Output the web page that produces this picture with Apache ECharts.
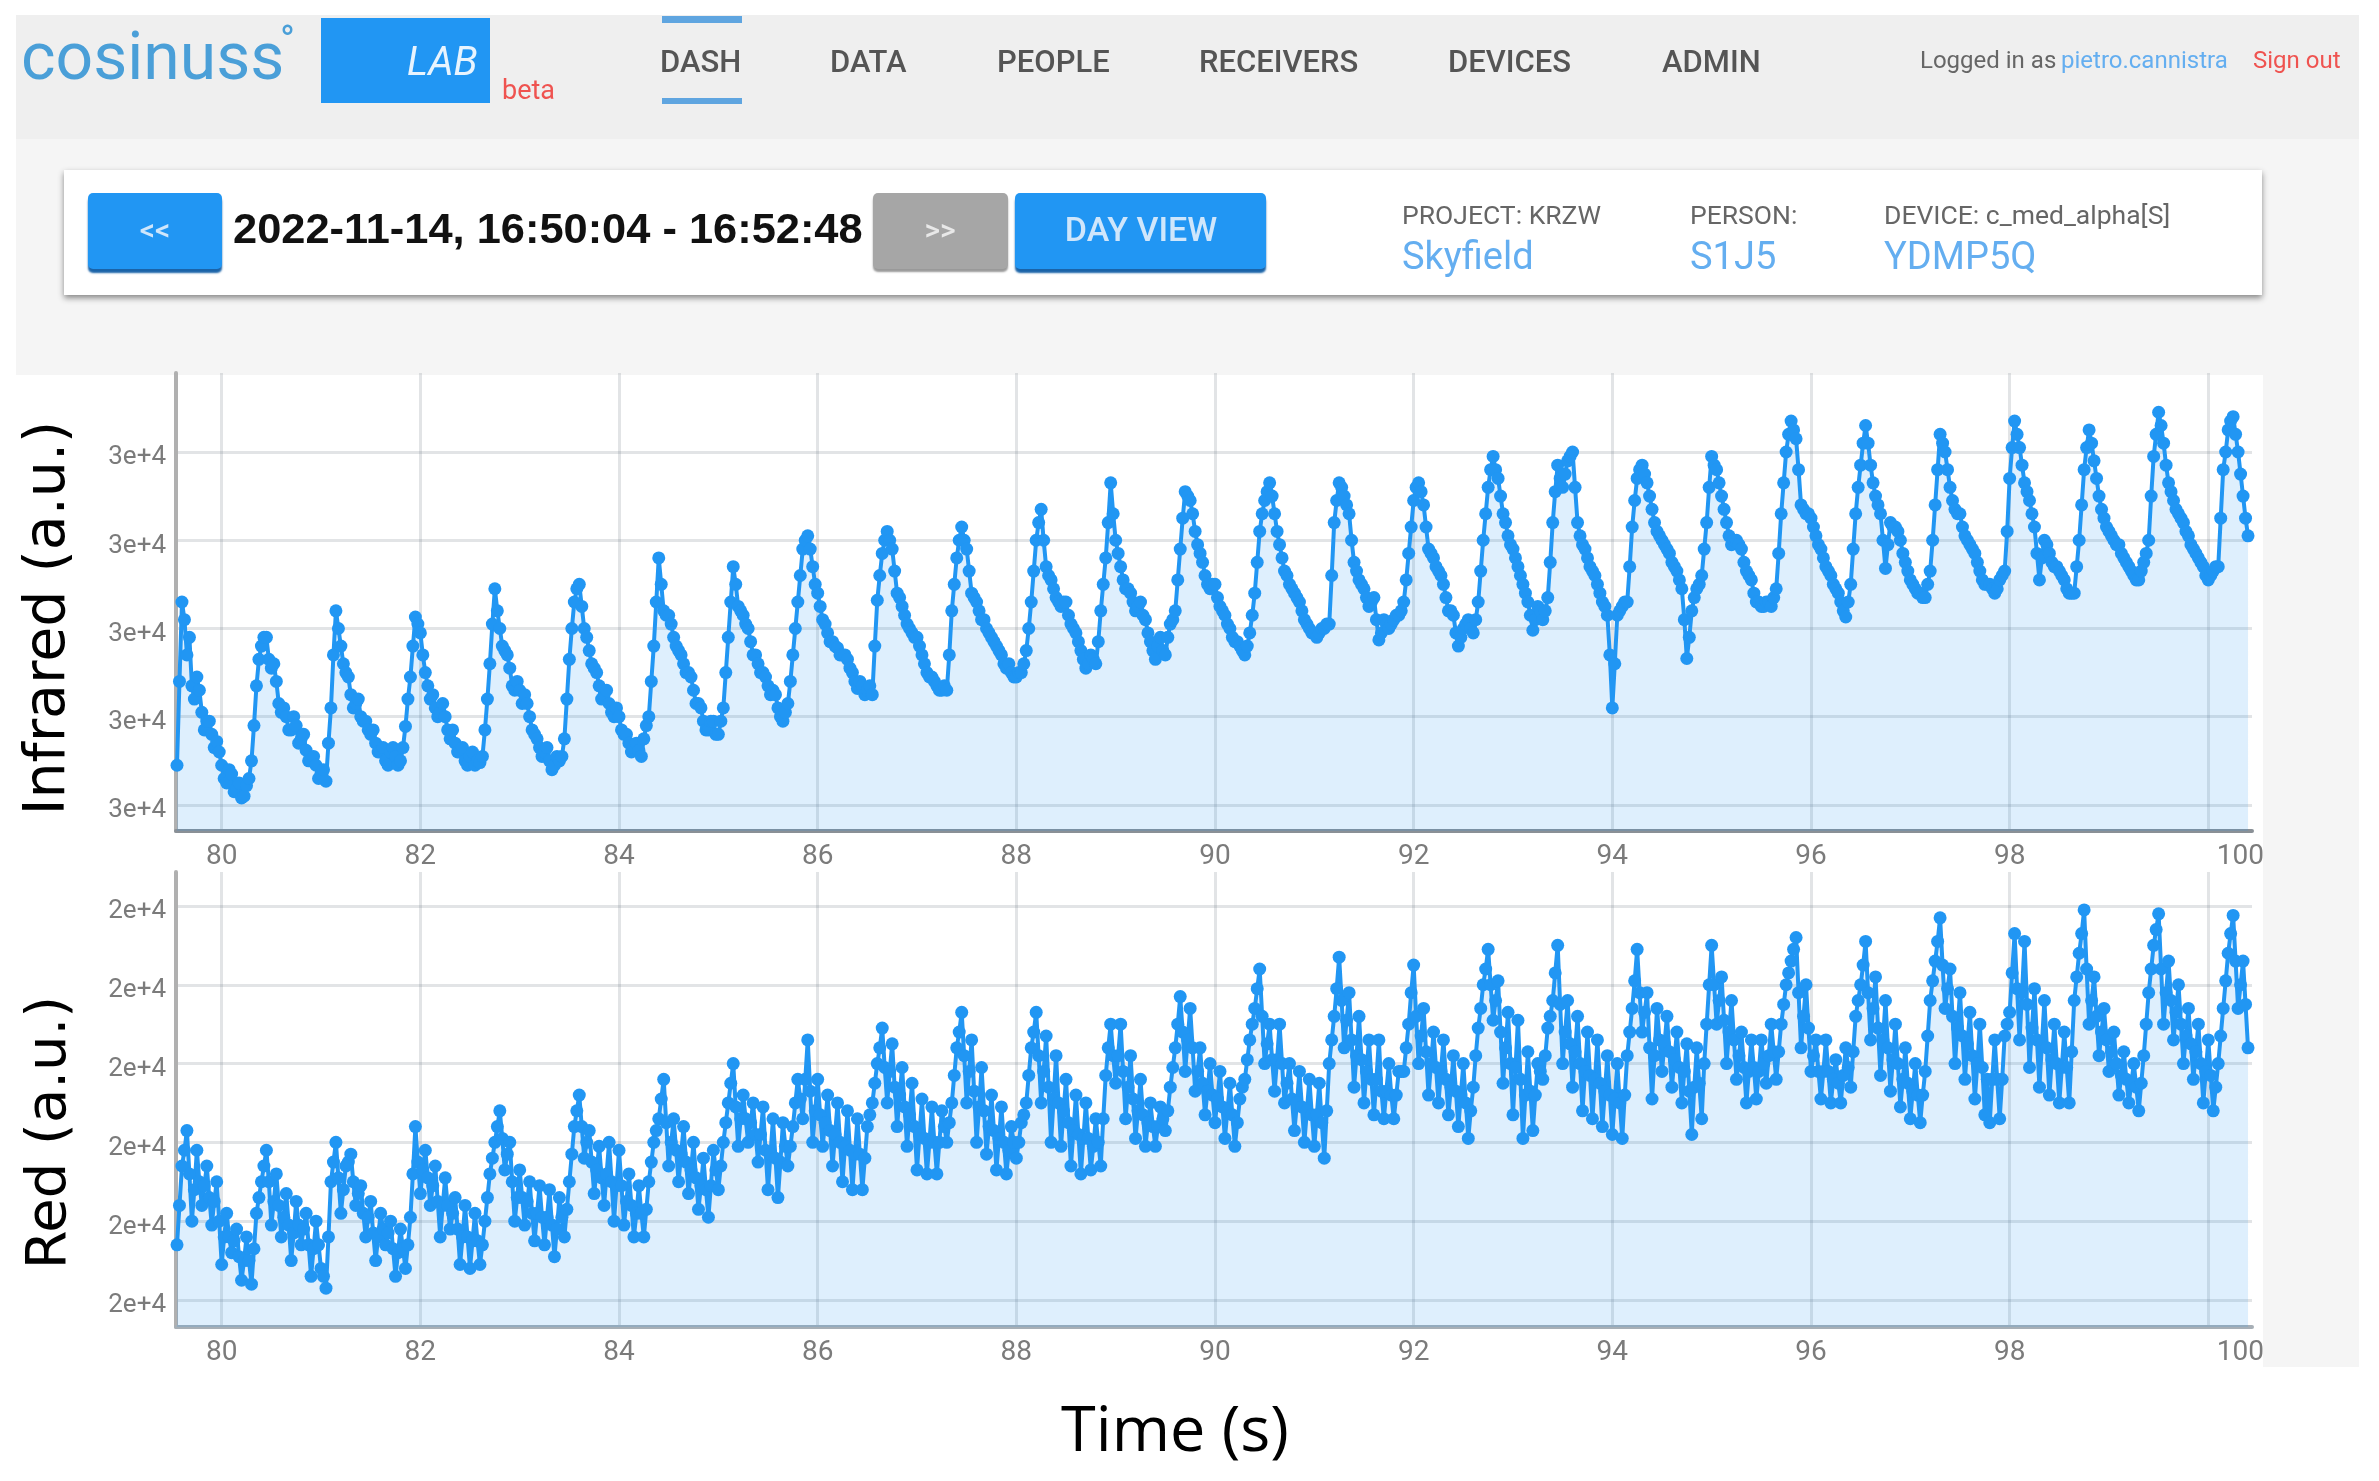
<!DOCTYPE html>
<html>
<head>
<meta charset="utf-8">
<title>cosinuss LAB</title>
<script src="https://cdn.jsdelivr.net/npm/echarts@6/dist/echarts.min.js"></script>
<style>
html, body { margin: 0; padding: 0; background: #fff; }
#chart { width: 2379px; height: 1481px; }
</style>
</head>
<body>
<div id="chart"></div>
<script>
// seconds, shared by both traces
const timeS = [
  79.55,79.60,79.65,79.70,79.75,79.80,79.85,79.90,79.95,
  80.00,80.05,80.10,80.15,80.20,80.25,80.30,80.35,80.40,80.45,80.50,80.55,80.60,80.65,80.70,80.75,80.80,80.85,80.90,80.95,
  81.00,81.05,81.10,81.15,81.20,81.25,81.30,81.35,81.40,81.45,81.50,81.55,81.60,81.65,81.70,81.75,81.80,81.85,81.90,81.95,
  82.00,82.05,82.10,82.15,82.20,82.25,82.30,82.35,82.40,82.45,82.50,82.55,82.60,82.65,82.70,82.75,82.80,82.85,82.90,82.95,
  83.00,83.05,83.10,83.15,83.20,83.25,83.30,83.35,83.40,83.45,83.50,83.55,83.60,83.65,83.70,83.75,83.80,83.85,83.90,83.95,
  84.00,84.05,84.10,84.15,84.20,84.25,84.30,84.35,84.40,84.45,84.50,84.55,84.60,84.65,84.70,84.75,84.80,84.85,84.90,84.95,
  85.00,85.05,85.10,85.15,85.20,85.25,85.30,85.35,85.40,85.45,85.50,85.55,85.60,85.65,85.70,85.75,85.80,85.85,85.90,85.95,
  86.00,86.05,86.10,86.15,86.20,86.25,86.30,86.35,86.40,86.45,86.50,86.55,86.60,86.65,86.70,86.75,86.80,86.85,86.90,86.95,
  87.00,87.05,87.10,87.15,87.20,87.25,87.30,87.35,87.40,87.45,87.50,87.55,87.60,87.65,87.70,87.75,87.80,87.85,87.90,87.95,
  88.00,88.05,88.10,88.15,88.20,88.25,88.30,88.35,88.40,88.45,88.50,88.55,88.60,88.65,88.70,88.75,88.80,88.85,88.90,88.95,
  89.00,89.05,89.10,89.15,89.20,89.25,89.30,89.35,89.40,89.45,89.50,89.55,89.60,89.65,89.70,89.75,89.80,89.85,89.90,89.95,
  90.00,90.05,90.10,90.15,90.20,90.25,90.30,90.35,90.40,90.45,90.50,90.55,90.60,90.65,90.70,90.75,90.80,90.85,90.90,90.95,
  91.00,91.05,91.10,91.15,91.20,91.25,91.30,91.35,91.40,91.45,91.50,91.55,91.60,91.65,91.70,91.75,91.80,91.85,91.90,91.95,
  92.00,92.05,92.10,92.15,92.20,92.25,92.30,92.35,92.40,92.45,92.50,92.55,92.60,92.65,92.70,92.75,92.80,92.85,92.90,92.95,
  93.00,93.05,93.10,93.15,93.20,93.25,93.30,93.35,93.40,93.45,93.50,93.55,93.60,93.65,93.70,93.75,93.80,93.85,93.90,93.95,
  94.00,94.05,94.10,94.15,94.20,94.25,94.30,94.35,94.40,94.45,94.50,94.55,94.60,94.65,94.70,94.75,94.80,94.85,94.90,94.95,
  95.00,95.05,95.10,95.15,95.20,95.25,95.30,95.35,95.40,95.45,95.50,95.55,95.60,95.65,95.70,95.75,95.80,95.85,95.90,95.95,
  96.00,96.05,96.10,96.15,96.20,96.25,96.30,96.35,96.40,96.45,96.50,96.55,96.60,96.65,96.70,96.75,96.80,96.85,96.90,96.95,
  97.00,97.05,97.10,97.15,97.20,97.25,97.30,97.35,97.40,97.45,97.50,97.55,97.60,97.65,97.70,97.75,97.80,97.85,97.90,97.95,
  98.00,98.05,98.10,98.15,98.20,98.25,98.30,98.35,98.40,98.45,98.50,98.55,98.60,98.65,98.70,98.75,98.80,98.85,98.90,98.95,
  99.00,99.05,99.10,99.15,99.20,99.25,99.30,99.35,99.40,99.45,99.50,99.55,99.60,99.65,99.70,99.75,99.80,99.85,99.90,99.95,
  100.00,100.05,100.10,100.15,100.20,100.25,100.30,100.35,100.40
];

const infraredValues = [
  26450,28300,27700,27350,27450,27050,26950,26800,26720,
  26450,26250,26350,26180,26080,26220,26500,27350,27800,27900,27550,27400,27050,27000,26850,26900,26750,26620,26500,26450,
  26350,26270,27100,28200,27800,27500,27250,27150,27000,26950,26800,26700,26600,26500,26600,26550,26500,26890,27450,28130,
  27950,27500,27200,27100,27050,27000,26750,26700,26600,26500,26550,26450,26480,26850,27600,28450,28000,27750,27550,27300,
  27300,27250,27000,26800,26650,26600,26500,26450,26500,26750,27650,28300,28500,28000,27750,27550,27350,27250,27150,27000,
  27000,26800,26700,26650,26620,26750,27000,27800,28800,28200,28150,27900,27750,27600,27500,27300,27150,26950,26850,26950,
  26800,27100,27900,28700,28250,28150,28000,27700,27600,27500,27350,27300,27100,26950,27150,27700,28300,28900,29050,28700,
  28400,28100,27950,27850,27780,27700,27650,27500,27320,27350,27300,27250,28320,28850,29100,28900,28400,28250,28050,27950,
  27900,27700,27500,27450,27350,27300,27300,28200,28800,29150,28900,28400,28300,28100,28000,27900,27800,27700,27550,27500,
  27450,27500,27750,28300,29000,29350,28700,28550,28350,28250,28300,28050,27950,27750,27550,27700,27600,28200,28800,29650,
  29000,28700,28450,28400,28200,28300,28100,27850,27650,27900,27700,28050,28200,28900,29550,29450,29100,28850,28600,28450,
  28500,28250,28150,28000,27850,27800,27700,27950,28400,29100,29450,29650,29300,28950,28650,28500,28400,28300,28100,28000,
  27950,27950,28000,28050,29200,29650,29500,29300,28750,28550,28450,28250,28350,27870,28100,28000,28100,28150,28300,28850,
  29450,29650,29400,28900,28800,28650,28500,28200,28150,27800,28000,28100,27950,28300,29000,29600,29950,29700,29300,29050,
  28900,28700,28500,28300,27980,28250,28100,28350,29200,29850,29600,29900,30000,29200,28950,28800,28650,28500,28300,28150,
  27100,28150,28250,28300,29150,29700,29850,29650,29350,29100,29000,28900,28750,28650,28450,27660,28200,28450,28600,29200,
  29950,29800,29500,29200,28950,29000,28900,28650,28550,28300,28250,28300,28250,28450,29300,30000,30350,30150,29400,29300,
  29250,29050,28900,28700,28600,28450,28300,28130,28500,29300,29850,30300,29850,29500,29300,28680,29200,29150,29000,28750,
  28550,28450,28400,28350,28650,29400,30200,30000,29600,29350,29300,29050,28950,28850,28650,28500,28500,28400,28550,28650,
  29700,30350,30050,29650,29450,29150,28550,29000,28850,28700,28650,28550,28400,28400,29000,29800,30250,29900,29500,29250,
  29100,29000,28950,28800,28700,28600,28550,28750,29000,29950,30450,30100,29650,29450,29300,29200,29050,28900,28800,28700,
  28550,28650,28700,29800,30250,30400,30000,29500,29050
];

const redValues = [
  18700,19700,20150,19000,19900,19200,19700,18950,19500,
  18450,19100,18600,18900,18250,18800,18200,19100,19500,19900,18950,19600,18800,19350,18500,19250,18700,19100,18300,19000,
  18400,18150,19500,20000,19100,19700,19850,19200,19450,18800,19250,18500,19100,18700,19000,18300,18900,18400,19050,20200,
  19350,19900,19200,19700,18800,19550,18900,19300,18450,19200,18400,19100,18450,19000,19600,20000,20400,19650,20000,19000,
  19650,18950,19500,18750,19450,18700,19400,18550,19300,18800,19500,20200,20600,19800,20150,19350,19950,19200,20000,19000,
  19900,18950,19600,18800,19450,18800,19500,20000,20300,20800,19700,20300,19500,20200,19350,20000,19150,19800,19050,19900,
  19400,20000,20500,21000,19950,20600,20000,20500,19750,20450,19400,20300,19300,20250,19700,20200,20800,20300,21300,20000,
  20800,19950,20600,19700,20500,19500,20400,19400,20300,19400,20200,20500,21000,21450,20500,21250,20200,20950,19950,20750,
  19650,20550,19600,20450,19600,20400,20000,20500,21200,21650,20500,21300,20000,20950,19850,20600,19650,20450,19600,20200,
  19800,20250,20500,21200,21650,20500,21350,20000,21100,19950,20800,19700,20600,19600,20500,19650,20300,19700,20850,21500,
  20750,21500,20300,21100,20050,20800,19950,20500,19950,20450,20150,20700,21200,21850,20900,21700,20650,21200,20350,21000,
  20250,20900,20050,20750,19950,20550,20800,21300,21700,22200,21000,21500,20650,21500,20500,21000,20150,20900,20000,20800,
  19950,20750,19800,21000,21600,22350,21200,21900,20700,21600,20500,21300,20350,21300,20300,21000,20300,20900,20900,21500,
  22250,21000,21700,20600,21400,20500,21300,20350,21100,20200,21000,20050,20700,21450,22000,22450,21550,22050,20750,21650,
  20350,21550,20050,21150,20150,21000,20800,21450,21800,22500,21000,21800,20700,21600,20400,21400,20300,21300,20200,21100,
  20100,21000,20050,21100,21700,22450,21400,21900,20550,21700,20900,21600,20700,21400,20500,21250,20100,21200,20300,21500,
  22500,21500,22100,21000,21800,20800,21400,20500,21300,20550,21300,20750,21500,20800,21500,22000,22300,22600,21200,22000,
  20900,21300,20550,21300,20500,21050,20500,21200,20700,21600,22000,22550,21300,22100,20850,21800,20650,21500,20450,21200,
  20300,21000,20250,20900,21800,22300,22850,21700,22200,21000,21900,20800,21650,20550,21500,20350,20250,21300,20300,21350,
  21650,22650,21300,22550,20950,21950,20700,21800,20600,21500,20500,21400,20500,21800,22400,22950,21500,22100,21100,21700,
  20900,21400,20600,21150,20500,21000,20400,21100,21900,22500,22900,21500,22300,21300,22000,21000,21700,20800,21500,20500,
  21300,20400,21000,21700,22400,22880,21700,22300,21200
];

// samples lying between the ones above
const midTimeS = [
  79.575,79.625,79.675,79.725,79.775,79.825,79.875,79.925,79.975,
  80.025,80.075,80.125,80.175,80.225,80.275,80.325,80.375,80.425,80.475,80.525,80.575,80.625,80.675,80.725,80.775,80.825,80.875,80.925,80.975,
  81.025,81.075,81.125,81.175,81.225,81.275,81.325,81.375,81.425,81.475,81.525,81.575,81.625,81.675,81.725,81.775,81.825,81.875,81.925,81.975,
  82.025,82.075,82.125,82.175,82.225,82.275,82.325,82.375,82.425,82.475,82.525,82.575,82.625,82.675,82.725,82.775,82.825,82.875,82.925,82.975,
  83.025,83.075,83.125,83.175,83.225,83.275,83.325,83.375,83.425,83.475,83.525,83.575,83.625,83.675,83.725,83.775,83.825,83.875,83.925,83.975,
  84.025,84.075,84.125,84.175,84.225,84.275,84.325,84.375,84.425,84.475,84.525,84.575,84.625,84.675,84.725,84.775,84.825,84.875,84.925,84.975,
  85.025,85.075,85.125,85.175,85.225,85.275,85.325,85.375,85.425,85.475,85.525,85.575,85.625,85.675,85.725,85.775,85.825,85.875,85.925,85.975,
  86.025,86.075,86.125,86.175,86.225,86.275,86.325,86.375,86.425,86.475,86.525,86.575,86.625,86.675,86.725,86.775,86.825,86.875,86.925,86.975,
  87.025,87.075,87.125,87.175,87.225,87.275,87.325,87.375,87.425,87.475,87.525,87.575,87.625,87.675,87.725,87.775,87.825,87.875,87.925,87.975,
  88.025,88.075,88.125,88.175,88.225,88.275,88.325,88.375,88.425,88.475,88.525,88.575,88.625,88.675,88.725,88.775,88.825,88.875,88.925,88.975,
  89.025,89.075,89.125,89.175,89.225,89.275,89.325,89.375,89.425,89.475,89.525,89.575,89.625,89.675,89.725,89.775,89.825,89.875,89.925,89.975,
  90.025,90.075,90.125,90.175,90.225,90.275,90.325,90.375,90.425,90.475,90.525,90.575,90.625,90.675,90.725,90.775,90.825,90.875,90.925,90.975,
  91.025,91.075,91.125,91.175,91.225,91.275,91.325,91.375,91.425,91.475,91.525,91.575,91.625,91.675,91.725,91.775,91.825,91.875,91.925,91.975,
  92.025,92.075,92.125,92.175,92.225,92.275,92.325,92.375,92.425,92.475,92.525,92.575,92.625,92.675,92.725,92.775,92.825,92.875,92.925,92.975,
  93.025,93.075,93.125,93.175,93.225,93.275,93.325,93.375,93.425,93.475,93.525,93.575,93.625,93.675,93.725,93.775,93.825,93.875,93.925,93.975,
  94.025,94.075,94.125,94.175,94.225,94.275,94.325,94.375,94.425,94.475,94.525,94.575,94.625,94.675,94.725,94.775,94.825,94.875,94.925,94.975,
  95.025,95.075,95.125,95.175,95.225,95.275,95.325,95.375,95.425,95.475,95.525,95.575,95.625,95.675,95.725,95.775,95.825,95.875,95.925,95.975,
  96.025,96.075,96.125,96.175,96.225,96.275,96.325,96.375,96.425,96.475,96.525,96.575,96.625,96.675,96.725,96.775,96.825,96.875,96.925,96.975,
  97.025,97.075,97.125,97.175,97.225,97.275,97.325,97.375,97.425,97.475,97.525,97.575,97.625,97.675,97.725,97.775,97.825,97.875,97.925,97.975,
  98.025,98.075,98.125,98.175,98.225,98.275,98.325,98.375,98.425,98.475,98.525,98.575,98.625,98.675,98.725,98.775,98.825,98.875,98.925,98.975,
  99.025,99.075,99.125,99.175,99.225,99.275,99.325,99.375,99.425,99.475,99.525,99.575,99.625,99.675,99.725,99.775,99.825,99.875,99.925,99.975,
  100.025,100.075,100.125,100.175,100.225,100.275,100.325,100.375
];

const infraredMidValues = [
  27400,28100,27900,27200,27300,26850,26950,26650,26600,
  26300,26400,26150,26250,26100,26300,26900,27650,27900,27650,27600,27150,27100,26850,27000,26700,26800,26500,26550,26300,
  26400,26700,27700,28000,27600,27450,27100,27200,26950,26850,26850,26600,26650,26450,26650,26450,26650,27200,27800,28050,
  27700,27350,27250,27000,27150,26850,26850,26600,26650,26450,26600,26500,26550,27200,28050,28200,27800,27700,27350,27400,
  27150,27150,26850,26750,26550,26650,26400,26550,26550,27200,28000,28450,28250,27900,27600,27500,27200,27300,27050,27100,
  26850,26800,26600,26700,26550,26900,27400,28300,28500,28150,28050,27800,27700,27500,27450,27150,27100,26850,26950,26800,
  26950,27500,28300,28500,28200,28050,27850,27700,27500,27450,27250,27250,27000,27050,27400,28000,28600,29000,28900,28500,
  28250,28050,27850,27800,27700,27700,27550,27400,27400,27250,27350,27800,28600,29000,29000,28650,28350,28150,28000,27900,
  27800,27600,27450,27400,27300,27350,27700,28500,29000,29000,28650,28350,28200,28100,27950,27850,27750,27600,27600,27450,
  27500,27600,28000,28650,29200,29000,28600,28450,28300,28300,28150,28000,27850,27650,27600,27650,27850,28500,29200,29300,
  28850,28550,28450,28300,28250,28150,27950,27750,27800,27750,27900,28100,28550,29250,29500,29300,28950,28750,28500,28500,
  28350,28200,28050,27900,27850,27750,27800,28150,28750,29300,29550,29500,29100,28800,28600,28450,28350,28200,28050,27950,
  27900,28000,28050,28600,29450,29600,29400,29000,28650,28500,28350,28300,28100,27950,28050,28050,28150,28200,28550,29150,
  29600,29550,29150,28850,28700,28600,28350,28200,27950,27900,28050,28000,28100,28650,29300,29800,29800,29500,29200,28950,
  28800,28600,28400,28150,28100,28200,28200,28750,29550,29700,29750,29950,29600,29050,28900,28700,28600,28400,28250,27700,
  27600,28200,28300,28700,29450,29800,29750,29500,29200,29050,28950,28850,28700,28550,28100,27900,28350,28500,28900,29600,
  29850,29650,29350,29050,29000,28950,28750,28600,28400,28300,28250,28300,28350,28850,29650,30200,30250,29800,29350,29300,
  29150,28950,28800,28650,28500,28400,28200,28300,28900,29600,30100,30100,29650,29400,29000,28950,29150,29100,28850,28650,
  28500,28400,28350,28500,29000,29800,30100,29800,29450,29300,29150,29000,28900,28750,28550,28500,28450,28450,28600,29100,
  30050,30200,29850,29550,29300,28850,28800,28950,28750,28700,28600,28450,28400,28700,29400,30050,30100,29700,29350,29150,
  29050,28950,28850,28750,28650,28550,28650,28850,29500,30200,30300,29850,29550,29350,29250,29100,28950,28850,28750,28600,
  28600,28700,29250,30000,30350,30200,29750,29250
];

const redMidValues = [
  19200,19900,19600,19400,19500,19450,19300,19250,19000,
  18800,18800,18750,18550,18500,18500,18650,19300,19700,19500,19250,19200,19050,18950,18850,18950,18900,18700,18650,18700,
  18300,18800,19750,19550,19400,19750,19500,19350,19100,19050,18850,18800,18900,18850,18650,18600,18650,18700,19600,19750,
  19650,19550,19450,19250,19200,19200,19100,18900,18800,18800,18750,18750,18700,19300,19800,20200,20050,19850,19500,19300,
  19300,19250,19100,19100,19050,19050,18950,18900,19050,19150,19850,20400,20200,20000,19750,19650,19550,19600,19500,19450,
  19450,19250,19200,19100,19100,19150,19750,20150,20550,20250,20000,19900,19850,19750,19650,19550,19450,19400,19450,19650,
  19700,20250,20750,20450,20300,20300,20250,20100,20100,19900,19850,19800,19750,19950,19950,20500,20550,20800,20650,20400,
  20350,20250,20150,20100,20000,19950,19900,19850,19850,19800,20350,20750,21200,20950,20900,20700,20600,20450,20350,20200,
  20100,20050,20000,20000,20000,20200,20250,20850,21400,21100,20900,20650,20450,20400,20200,20150,20050,20000,19900,20000,
  20000,20350,20850,21400,21100,20900,20700,20550,20500,20400,20250,20150,20100,20050,20050,19950,20000,20300,21200,21100,
  21100,20900,20700,20550,20400,20350,20250,20200,20200,20300,20400,20950,21500,21400,21300,21200,20900,20750,20650,20600,
  20550,20450,20400,20350,20250,20700,21050,21500,21950,21600,21250,21050,21050,21000,20750,20550,20500,20450,20400,20350,
  20350,20250,20400,21300,21950,21800,21550,21300,21100,21050,20900,20800,20800,20650,20650,20600,20600,20900,21200,21900,
  21600,21350,21150,21000,20950,20900,20800,20700,20650,20600,20500,20400,21100,21700,22200,22000,21800,21400,21200,21000,
  20950,20800,20600,20650,20600,20900,21100,21600,22150,21750,21400,21250,21150,21000,20900,20850,20800,20750,20650,20600,
  20550,20500,20600,21400,22050,21900,21650,21200,21100,21300,21250,21150,21050,20950,20900,20650,20700,20750,21000,22000,
  22000,21800,21550,21400,21300,21100,20950,20900,20950,20900,21000,21100,21150,21150,21750,22150,22450,21900,21600,21450,
  21100,20900,20900,20900,20800,20750,20850,20950,21150,21800,22250,21900,21700,21450,21300,21200,21050,21000,20800,20750,
  20650,20600,20600,21350,22050,22550,22250,21950,21600,21450,21350,21250,21100,21000,20950,20800,20800,20800,20800,21500,
  22150,21950,21900,21750,21450,21300,21250,21200,21050,21000,20950,20950,21150,22100,22650,22200,21800,21600,21400,21300,
  21150,21000,20850,20800,20750,20700,20750,21500,22200,22700,22200,21900,21800,21650,21500,21350,21250,21150,21000,20900,
  20850,20700,21350,22050,22650,22300,22000,21750
];

const xTickValues = [80, 82, 84, 86, 88, 90, 92, 94, 96, 98, 100];
const infraredTicks = [26000, 27000, 28000, 29000, 30000];
const redTicks = [18000, 19000, 20000, 21000, 22000, 23000];

const BLUE = '#2196f3';
const AXIS_GRAY = '#7b7b7b';

function box(x, y, width, height, fill, extra) {
    return {
        type: 'rect',
        shape: { x: x, y: y, width: width, height: height, r: (extra && extra.r) || 0 },
        style: Object.assign({ fill: fill }, extra ? extra.style : null),
        silent: true
    };
}

function label(text, x, y, size, color, extra) {
    return {
        type: 'text',
        x: x,
        y: y,
        silent: true,
        style: Object.assign({
            text: text,
            fill: color,
            font: (extra && extra.font) || ('500 ' + size + 'px Roboto, sans-serif'),
            textAlign: 'left',
            textVerticalAlign: 'middle'
        }, extra ? extra.style : null)
    };
}

function pageParts() {
    const btnShadow = { shadowColor: '#1a63a8', shadowOffsetY: 4, shadowBlur: 2 };
    return [
        // page background
        box(16, 15, 2343, 360, '#f5f5f5'),
        box(2263, 375, 96, 992, '#f5f5f5'),
        box(16, 15, 2343, 124, '#efefef'),

        // logo
        label('cosinuss', 21, 62, 66, '#4a9fd8', { font: '400 66px Roboto, sans-serif' }),
        label('°', 280, 44, 40, '#4a9fd8', { font: '400 40px Roboto, sans-serif' }),
        box(321, 18, 169, 85, BLUE),
        label('LAB', 407, 65, 40, '#e8f4fe', { font: 'italic 400 40px Roboto, sans-serif' }),
        label('beta', 502, 92, 27, '#ef5350', { font: '400 27px Roboto, sans-serif' }),

        // nav
        box(662, 16, 80, 7, '#5fa5e0'),
        box(662, 98, 80, 6, '#5fa5e0'),
        label('DASH', 660, 64, 31, '#555'),
        label('DATA', 830, 64, 31, '#555'),
        label('PEOPLE', 997, 64, 31, '#555'),
        label('RECEIVERS', 1199, 64, 31, '#555'),
        label('DEVICES', 1448, 64, 31, '#555'),
        label('ADMIN', 1662, 64, 31, '#555'),
        label('Logged in as', 1920, 62, 24, '#666', { font: '400 24px Roboto, sans-serif' }),
        label('pietro.cannistra', 2061, 62, 24, '#64aef0', { font: '400 24px Roboto, sans-serif' }),
        label('Sign out', 2253, 62, 24, '#ef5350', { font: '400 24px Roboto, sans-serif' }),

        // date card
        box(64, 170, 2198, 125, '#fff', { style: { shadowColor: 'rgba(0,0,0,0.45)', shadowBlur: 6, shadowOffsetY: 3 } }),
        box(88, 193, 134, 76, BLUE, { r: 5, style: btnShadow }),
        label('<<', 155, 232, 30, '#cfe6fb', { style: { textAlign: 'center' } }),
        label('2022-11-14, 16:50:04 - 16:52:48', 233, 231, 43.4, '#111', { font: '700 43.4px "Liberation Sans", sans-serif' }),
        box(873, 193, 135, 76, '#a6a6a6', { r: 5, style: { shadowColor: '#999', shadowOffsetY: 3, shadowBlur: 2 } }),
        label('>>', 940, 232, 30, '#e8e8e8', { style: { textAlign: 'center' } }),
        box(1015, 193, 251, 76, BLUE, { r: 5, style: btnShadow }),
        label('DAY VIEW', 1141, 232, 34, '#cfe6fb', { style: { textAlign: 'center' } }),
        label('PROJECT: KRZW', 1402, 217, 26.5, '#666', { font: '400 26.5px Roboto, sans-serif' }),
        label('PERSON:', 1690, 217, 26.5, '#666', { font: '400 26.5px Roboto, sans-serif' }),
        label('DEVICE: c_med_alpha[S]', 1884, 217, 26.5, '#666', { font: '400 26.5px Roboto, sans-serif' }),
        label('Skyfield', 1402, 259, 38, '#64aef0', { font: '400 38px Roboto, sans-serif' }),
        label('S1J5', 1690, 259, 38, '#64aef0', { font: '400 38px Roboto, sans-serif' }),
        label('YDMP5Q', 1884, 259, 38, '#64aef0', { font: '400 38px Roboto, sans-serif' })
    ];
}

function trace(values, midValues, gridIndex, name) {
    const points = timeS.map((t, i) => [t, values[i]])
        .concat(midTimeS.map((t, i) => [t, midValues[i]]))
        .sort((a, b) => a[0] - b[0]);
    return {
        name: name,
        type: 'line',
        xAxisIndex: gridIndex,
        yAxisIndex: gridIndex,
        data: points,
        showSymbol: true,
        showAllSymbol: true,
        symbol: 'circle',
        symbolSize: 13,
        sampling: 'none',
        lineStyle: { color: BLUE, width: 4 },
        itemStyle: { color: BLUE },
        areaStyle: { color: BLUE, opacity: 0.15, origin: 'start' },
        animation: false
    };
}

function xAxisFor(gridIndex, lineColor, extra) {
    return Object.assign({
        type: 'value',
        gridIndex: gridIndex,
        min: 79.54,
        max: 100.44,
        axisLine: { show: true, onZero: false, lineStyle: { color: lineColor, width: 4 } },
        axisTick: { show: false, customValues: xTickValues },
        axisLabel: {
            customValues: xTickValues,
            color: AXIS_GRAY,
            fontFamily: 'Roboto, sans-serif',
            fontSize: 28,
            margin: 12,
            formatter: v => (v === 100 ? '{far|100}' : String(v)),
            rich: { far: { color: AXIS_GRAY, fontFamily: 'Roboto, sans-serif', fontSize: 28, padding: [0, 0, 0, 64] } }
        },
        splitLine: { show: true, lineStyle: { color: 'rgba(110,120,130,0.2)', width: 3 } }
    }, extra);
}

function yAxisFor(gridIndex, min, max, ticks, name, nameSize, namePad) {
    return {
        type: 'value',
        gridIndex: gridIndex,
        min: min,
        max: max,
        name: name,
        nameLocation: 'middle',
        nameGap: 98,
        nameTextStyle: {
            color: '#000',
            fontFamily: '"DejaVu Sans", sans-serif',
            fontSize: nameSize,
            padding: namePad
        },
        axisLine: { show: true, lineStyle: { color: '#b0b0b0', width: 4 } },
        axisTick: { show: false, customValues: ticks },
        axisLabel: {
            customValues: ticks,
            margin: 10,
            formatter: v => '{v|' + v.toExponential(0) + '}',
            rich: {
                v: { color: AXIS_GRAY, fontFamily: 'Roboto, sans-serif', fontSize: 26, padding: [12, 0, 0, 0] }
            }
        },
        splitLine: { show: true, lineStyle: { color: 'rgba(110,120,130,0.2)', width: 3 } }
    };
}

const myChart = echarts.init(document.getElementById('chart'));

myChart.setOption({
    animation: false,
    backgroundColor: '#fff',
    graphic: { elements: pageParts() },
    grid: [
        { left: 176, width: 2076, top: 373, height: 458 },
        { left: 176, width: 2076, top: 872, height: 455 }
    ],
    xAxis: [
        xAxisFor(0, '#8a9096'),
        xAxisFor(1, '#a7afb6', {
            name: 'Time (s)',
            nameLocation: 'middle',
            nameGap: 75,
            nameTextStyle: {
                color: '#000',
                fontFamily: '"Open Sans", sans-serif',
                fontSize: 63,
                padding: [0, 78, 0, 0]
            }
        })
    ],
    yAxis: [
        yAxisFor(0, 25705, 30895, infraredTicks, 'Infrared (a.u.)', 57, [0, 32, 0, 0]),
        yAxisFor(1, 17657, 23431, redTicks, 'Red (a.u.)', 56, [0, 66, 0, 0])
    ],
    series: [
        trace(infraredValues, infraredMidValues, 0, 'Infrared'),
        trace(redValues, redMidValues, 1, 'Red')
    ]
});
</script>
</body>
</html>
